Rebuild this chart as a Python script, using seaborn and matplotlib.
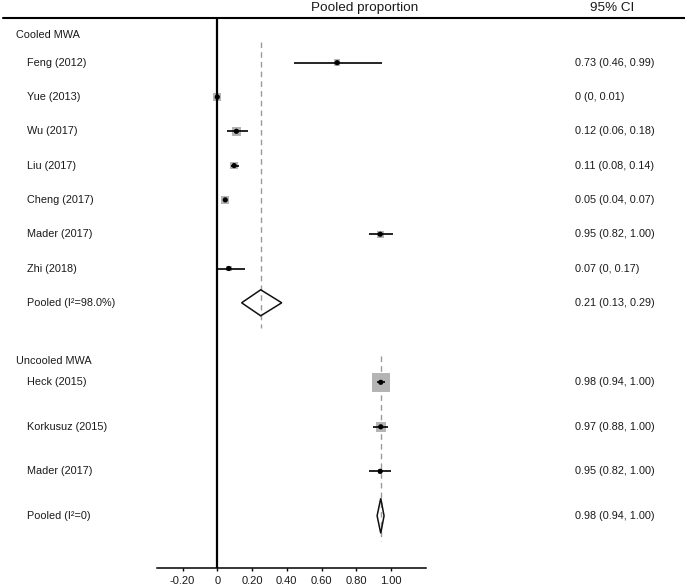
import numpy as np
import pandas as pd
import matplotlib
matplotlib.use("Agg")
import matplotlib.pyplot as plt
import matplotlib.transforms as mtransforms
from matplotlib.lines import Line2D
from matplotlib.patches import Polygon
import seaborn as sns

# ---- data ----
cooled_studies = ["Feng (2012)", "Yue (2013)", "Wu (2017)", "Liu (2017)",
                  "Cheng (2017)", "Mader (2017)", "Zhi (2018)"]
cooled_est = [0.69, 0.0, 0.11, 0.097, 0.046, 0.938, 0.066]
cooled_lo = [0.443, 0.0, 0.054, 0.077, 0.040, 0.875, 0.0]
cooled_hi = [0.946, 0.005, 0.178, 0.126, 0.055, 1.009, 0.160]
cooled_weight = [6, 7, 8, 7, 7, 6, 5]
cooled_ci_text = ["0.73 (0.46, 0.99)", "0 (0, 0.01)", "0.12 (0.06, 0.18)",
                  "0.11 (0.08, 0.14)", "0.05 (0.04, 0.07)", "0.95 (0.82, 1.00)",
                  "0.07 (0, 0.17)"]
cooled_pooled = [0.25, 0.14, 0.371]
cooled_pooled_label = "Pooled (I\u00b2=98.0%)"
cooled_pooled_text = "0.21 (0.13, 0.29)"

uncooled_studies = ["Heck (2015)", "Korkusuz (2015)", "Mader (2017)"]
uncooled_est = [0.941, 0.941, 0.938]
uncooled_lo = [0.92, 0.897, 0.875]
uncooled_hi = [0.965, 0.984, 1.0]
uncooled_weight = [16.6, 9, 4]
uncooled_ci_text = ["0.98 (0.94, 1.00)", "0.97 (0.88, 1.00)", "0.95 (0.82, 1.00)"]
uncooled_pooled = [0.941, 0.92, 0.96]
uncooled_pooled_label = "Pooled (I\u00b2=0)"
uncooled_pooled_text = "0.98 (0.94, 1.00)"

tick_values = [-0.2, 0, 0.2, 0.4, 0.6, 0.8, 1.0]
tick_labels = ["-0.20", "0", "0.20", "0.40", "0.60", "0.80", "1.00"]

# ---- style ----
sns.set_style("white")
plt.rcParams["font.family"] = ["Liberation Sans", "DejaVu Sans"]
TXT = "#1a1a1a"
W, H = 685, 587

fig = plt.figure(figsize=(W / 100, H / 100), dpi=100)
fig.patch.set_facecolor("white")
ax = fig.add_axes([157 / W, 1 - 568 / H, (426 - 157) / W, (568 - 18) / H])
ax.set_xlim(-0.347, 1.2015)
ax.set_ylim(568, 18)  # y in pixel-like layout units, top to bottom

lbl = mtransforms.blended_transform_factory(fig.transFigure, ax.transData)

groups = [
    ("Cooled MWA", 35, 62.7, 34.3, cooled_studies, cooled_est, cooled_lo, cooled_hi,
     cooled_weight, cooled_ci_text, cooled_pooled, cooled_pooled_label, cooled_pooled_text, 13),
    ("Uncooled MWA", 361, 382.3, 44.5, uncooled_studies, uncooled_est, uncooled_lo,
     uncooled_hi, uncooled_weight, uncooled_ci_text, uncooled_pooled,
     uncooled_pooled_label, uncooled_pooled_text, 17.5),
]

for (title, head_y, first_y, step, names, est, lo, hi, wt, ci_txt,
     pooled, pooled_label, pooled_text, half_h) in groups:
    ys = first_y + step * np.arange(len(names))
    pooled_y = first_y + step * len(names)

    # dashed reference line at the pooled estimate
    ax.plot([pooled[0], pooled[0]], [first_y - 0.6 * step, pooled_y + 25],
            color="#9a9a9a", lw=1.0, ls=(0, (4, 3)), zorder=1)

    df = pd.DataFrame({"est": est, "lo": lo, "hi": hi, "y": ys,
                       "s": [(w * 0.8) ** 2 for w in wt]})
    sns.scatterplot(data=df, x="est", y="y", marker="s", s=df["s"].tolist(),
                    color="#b4b4b4", edgecolor="none", ax=ax, zorder=2, legend=False)
    ax.hlines(df["y"], df["lo"], df["hi"], color="black", lw=1.2, zorder=3)
    sns.scatterplot(data=df, x="est", y="y", marker="o", s=14, color="black",
                    edgecolor="none", ax=ax, zorder=4, legend=False)

    # pooled diamond
    ax.add_patch(Polygon([[pooled[1], pooled_y], [pooled[0], pooled_y - half_h],
                          [pooled[2], pooled_y], [pooled[0], pooled_y + half_h]],
                         closed=True, facecolor="none", edgecolor="#111111",
                         lw=1.1, zorder=3))

    # text columns
    ax.text(16 / W, head_y, title, transform=lbl, fontsize=7.8, color=TXT,
            va="center", ha="left")
    for y, n, t in zip(ys, names, ci_txt):
        ax.text(27 / W, y, n, transform=lbl, fontsize=7.8, color=TXT,
                va="center", ha="left")
        ax.text(575 / W, y, t, transform=lbl, fontsize=7.8, color=TXT,
                va="center", ha="left")
    ax.text(27 / W, pooled_y, pooled_label, transform=lbl, fontsize=7.8,
            color=TXT, va="center", ha="left")
    ax.text(575 / W, pooled_y, pooled_text, transform=lbl, fontsize=7.8,
            color=TXT, va="center", ha="left")

# zero line
ax.axvline(0, color="black", lw=1.6, zorder=5)

# header
fig.add_artist(Line2D([3 / W, 1.0], [1 - 18 / H, 1 - 18 / H], color="black", lw=1.5))
fig.text(365 / W, 1 - 8 / H, "Pooled proportion", fontsize=9.7, color=TXT,
         ha="center", va="center")
fig.text(612 / W, 1 - 8 / H, "95% CI", fontsize=9.7, color=TXT,
         ha="center", va="center")

# axes cosmetics
for side in ["top", "right", "left"]:
    ax.spines[side].set_visible(False)
ax.spines["bottom"].set_color("black")
ax.spines["bottom"].set_linewidth(1.1)
ax.set_yticks([])
ax.set_xticks(tick_values)
ax.set_xticklabels(tick_labels)
ax.tick_params(axis="x", direction="out", length=2.5, width=1.0, color="black",
               labelsize=8, labelcolor=TXT, pad=3, bottom=True)
ax.set_xlabel("")
ax.set_ylabel("")

fig.savefig("out.png", dpi=100, facecolor="white")
